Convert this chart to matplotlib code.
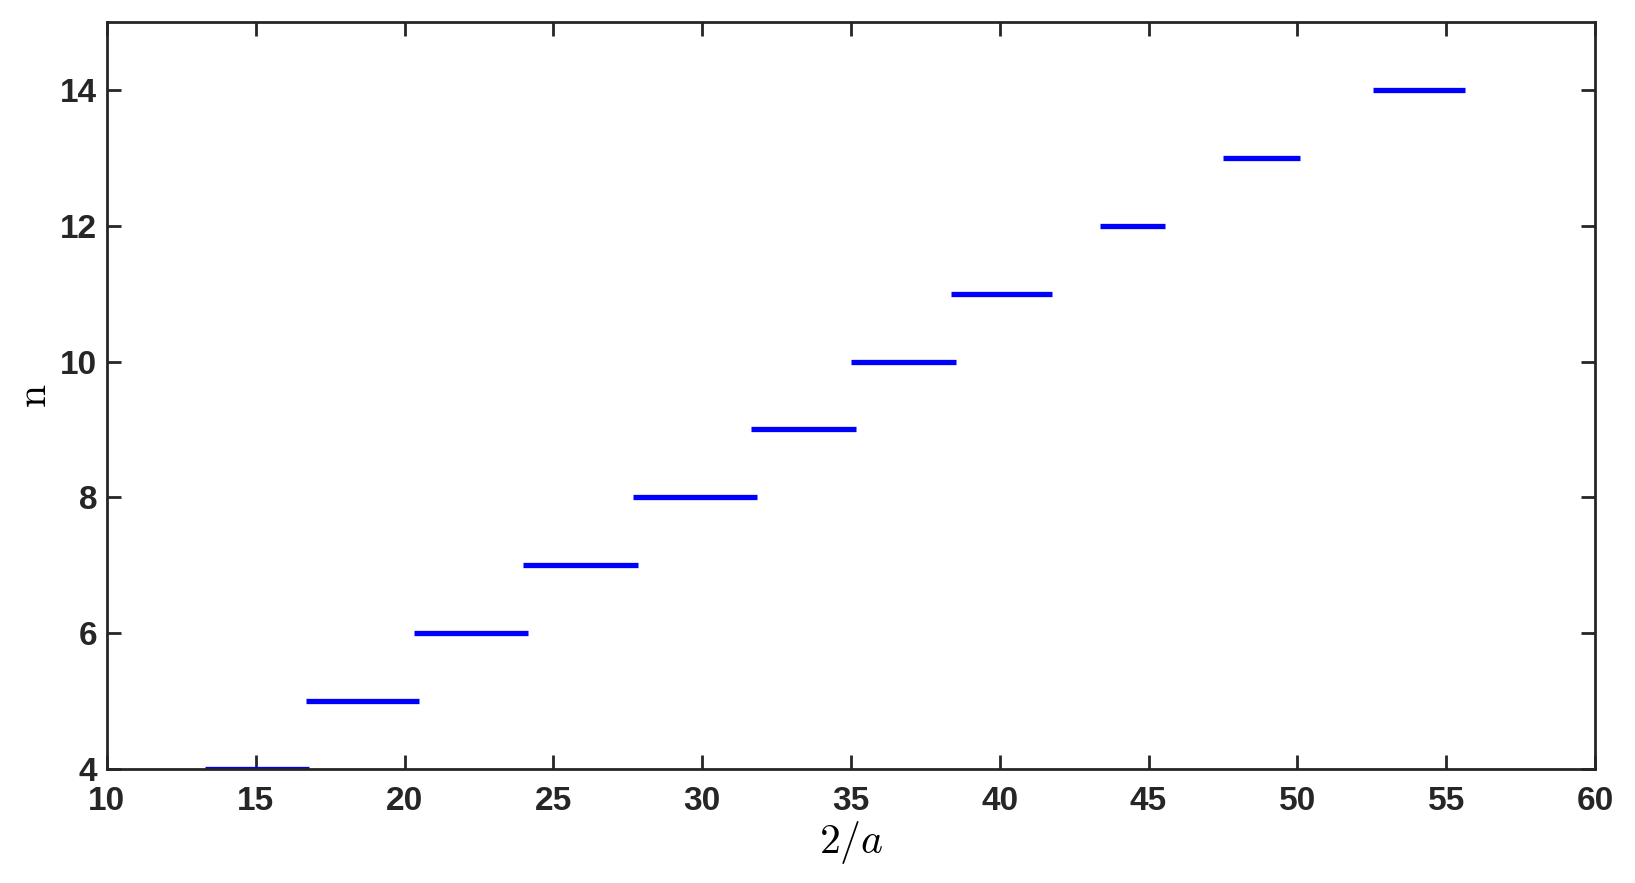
import matplotlib
matplotlib.use("Agg")
import matplotlib.pyplot as plt

# niveaux n et intervalles en 2/a (debut, fin)
n_levels = [4, 5, 6, 7, 8, 9, 10, 11, 12, 13, 14]
x_start = [13.30, 16.70, 20.31, 23.99, 27.67, 31.63, 34.99, 38.36, 43.37, 47.50, 52.54]
x_end = [16.80, 20.48, 24.16, 27.84, 31.83, 35.17, 38.53, 41.75, 45.54, 50.08, 55.63]

x_ticks = [10, 15, 20, 25, 30, 35, 40, 45, 50, 55, 60]
y_ticks = [4, 6, 8, 10, 12, 14]

axis_col = "#262626"

plt.rcParams['mathtext.fontset'] = 'cm'

fig = plt.figure(figsize=(16.35, 8.83), dpi=100)
ax = fig.add_axes([0.0654, 0.1291, 0.9101, 0.846])

ax.hlines(n_levels, x_start, x_end, colors=(0, 0, 1), linewidth=3.8,
          capstyle='butt')

ax.set_xlim(10, 60)
ax.set_ylim(4, 15)
ax.set_xticks(x_ticks)
ax.set_yticks(y_ticks)

for s in ax.spines.values():
    s.set_linewidth(2.0)
    s.set_color(axis_col)

ax.tick_params(direction='in', length=10, width=2.0, color=axis_col,
               top=True, right=True, labelsize=24, labelcolor=axis_col)
ax.tick_params(axis='x', pad=12)
ax.tick_params(axis='y', pad=7)
for lab in ax.get_xticklabels() + ax.get_yticklabels():
    lab.set_fontweight('bold')
    lab.set_fontfamily('Liberation Sans')

ax.set_xlabel(r'$2/a$', fontsize=30, labelpad=2)
ax.set_ylabel(r'$\mathrm{n}$', fontsize=30, labelpad=4)

fig.savefig("out.png", dpi=100)
